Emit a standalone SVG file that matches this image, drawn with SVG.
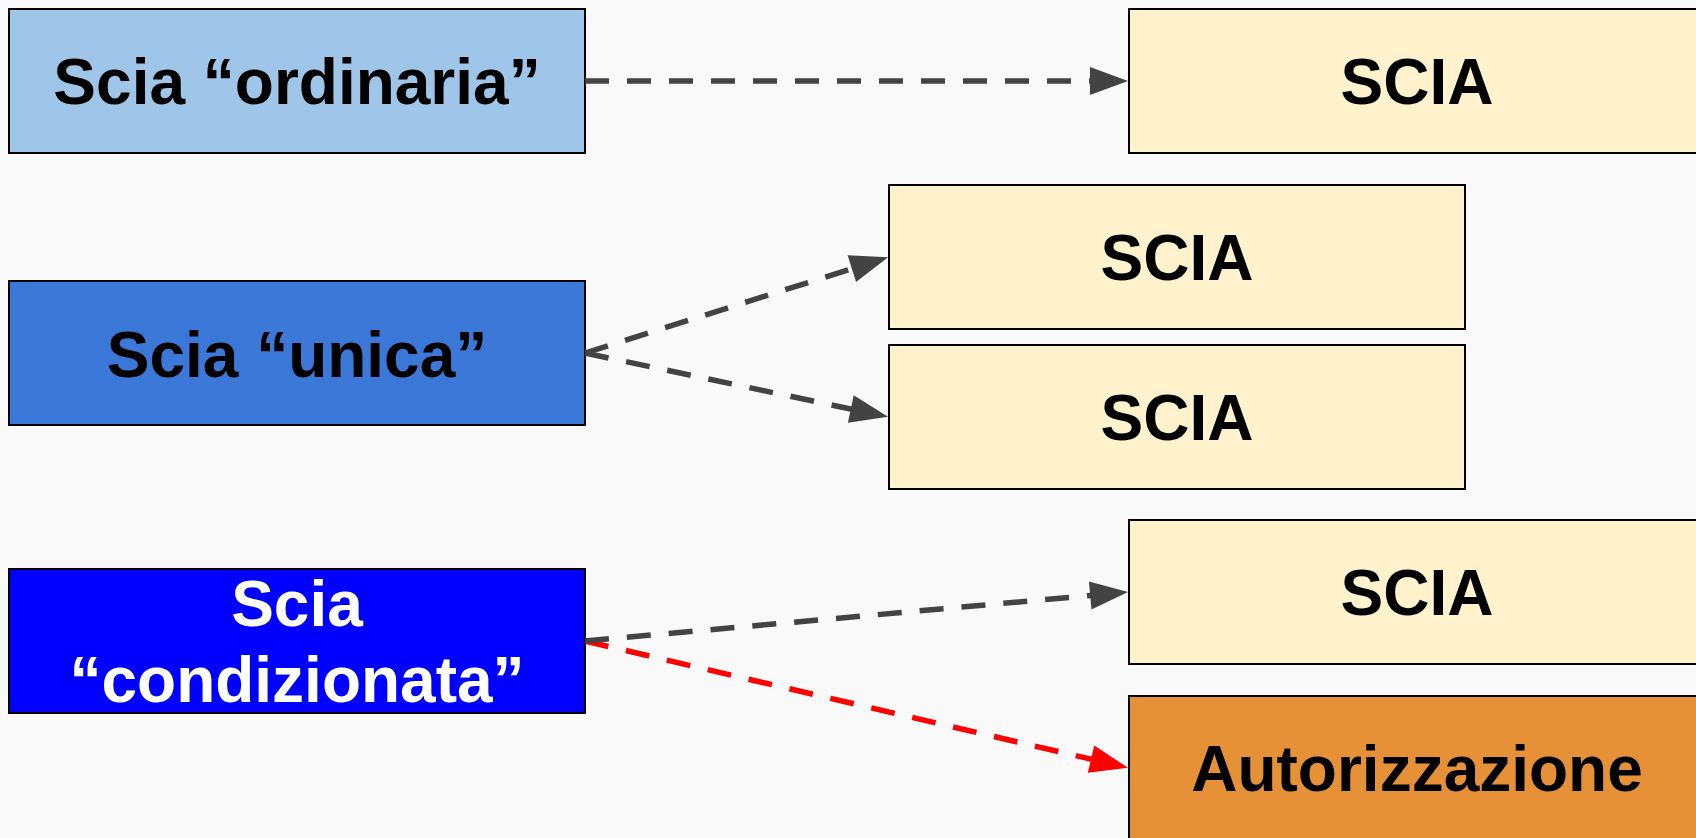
<svg xmlns="http://www.w3.org/2000/svg" width="1696" height="838" viewBox="0 0 1696 838">
  <style>
    .box { stroke: #000000; stroke-width: 2; }
    .lbl { font-family: "Liberation Sans", Arial, sans-serif; font-weight: bold; font-size: 64px; text-anchor: middle; }
    .dark { fill: #000000; }
    .light { fill: #FFFFFF; }
    .conn { fill: none; stroke-width: 5.5; stroke-dasharray: 24 18; stroke-linecap: butt; }
    .grey { stroke: #434343; }
    .red { stroke: #FF0000; }
  </style>
  <defs>
    <marker id="arrGrey" markerUnits="userSpaceOnUse" markerWidth="40" markerHeight="30" viewBox="0 -15 40 30" refX="1" refY="0" orient="auto" overflow="visible">
      <path d="M0,-14 L38,0 L0,14 Z" fill="#434343"/>
    </marker>
    <marker id="arrRed" markerUnits="userSpaceOnUse" markerWidth="40" markerHeight="30" viewBox="0 -15 40 30" refX="1" refY="0" orient="auto" overflow="visible">
      <path d="M0,-14 L38,0 L0,14 Z" fill="#FF0000"/>
    </marker>
  </defs>
  <rect x="0" y="0" width="1696" height="838" fill="#F9F9F9"/>

  <g id="n-ordinaria">
    <rect class="box" x="9" y="9" width="576" height="144" fill="#9FC5E8"/>
    <text class="lbl dark" x="297" y="104">Scia “ordinaria”</text>
  </g>
  <g id="n-unica">
    <rect class="box" x="9" y="281" width="576" height="144" fill="#3C78D8"/>
    <text class="lbl dark" x="297" y="377">Scia “unica”</text>
  </g>
  <g id="n-condizionata">
    <rect class="box" x="9" y="569" width="576" height="144" fill="#0000FF"/>
    <text class="lbl light" x="297" y="626">Scia</text>
    <text class="lbl light" x="297" y="702">“condizionata”</text>
  </g>
  <g id="n-scia-1">
    <rect class="box" x="1129" y="9" width="576" height="144" fill="#FFF2CC"/>
    <text class="lbl dark" x="1417" y="104">SCIA</text>
  </g>
  <g id="n-scia-2">
    <rect class="box" x="889" y="185" width="576" height="144" fill="#FFF2CC"/>
    <text class="lbl dark" x="1177" y="280">SCIA</text>
  </g>
  <g id="n-scia-3">
    <rect class="box" x="889" y="345" width="576" height="144" fill="#FFF2CC"/>
    <text class="lbl dark" x="1177" y="440">SCIA</text>
  </g>
  <g id="n-scia-4">
    <rect class="box" x="1129" y="520" width="576" height="144" fill="#FFF2CC"/>
    <text class="lbl dark" x="1417" y="615">SCIA</text>
  </g>
  <g id="n-autorizzazione">
    <rect class="box" x="1129" y="696" width="576" height="144" fill="#E69138"/>
    <text class="lbl dark" x="1417" y="791">Autorizzazione</text>
  </g>

  <g id="connectors">
    <line class="conn grey" x1="585" y1="81" x2="1091" y2="81" marker-end="url(#arrGrey)"/>
    <line class="conn grey" x1="585" y1="353" x2="852.8" y2="268.4" marker-end="url(#arrGrey)"/>
    <line class="conn grey" x1="585" y1="353" x2="851.8" y2="409.2" marker-end="url(#arrGrey)"/>
    <line class="conn red" x1="585" y1="641" x2="1092" y2="759.4" marker-end="url(#arrRed)"/>
    <line class="conn grey" x1="585" y1="641" x2="1091.2" y2="595.4" marker-end="url(#arrGrey)"/>
  </g>
</svg>
